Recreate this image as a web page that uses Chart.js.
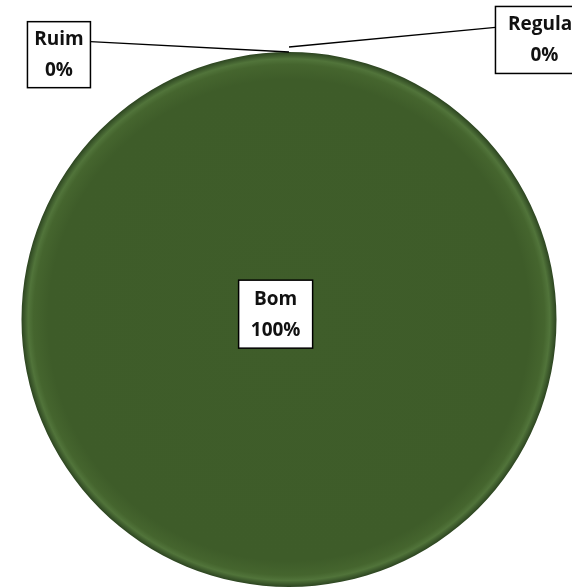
<!DOCTYPE html>
<html>
<head>
<meta charset="utf-8">
<script src="https://cdn.jsdelivr.net/npm/chart.js@4.4.1/dist/chart.umd.min.js"></script>
<style>
    html, body { margin: 0; padding: 0; background: #ffffff; }
    #wrap { width: 572px; height: 587px; position: relative; }
</style>
</head>
<body>
<div id="wrap"><canvas id="pieChart"></canvas></div>
<script>
'use strict';

// data
const categories = ['Ruim', 'Bom', 'Regular'];
const values = [0, 100, 0];
const percentLabels = ['0%', '100%', '0%'];

// where each label box sits, relative to the pie (dx, dy in radii)
const labelOffsets = [
    { dx: -0.86, dy: -0.99, w: 63, h: 66 },
    { dx: -0.05, dy: -0.02, w: 74, h: 68 },
    { dx: 0.955, dy: -1.045, w: 98, h: 67 }
];

function pieFill(context) {
    const chart = context.chart;
    const area = chart.chartArea;
    if (!area) return '#3e5c29';
    const cx = (area.left + area.right) / 2;
    const cy = (area.top + area.bottom) / 2;
    const r = Math.min(area.right - area.left, area.bottom - area.top) / 2;
    if (!Number.isFinite(cx) || !Number.isFinite(r) || r <= 0) return '#3e5c29';
    const g = chart.ctx.createRadialGradient(cx, cy + r * 0.03, 0, cx, cy, r);
    g.addColorStop(0, '#3f5d2a');
    g.addColorStop(0.9, '#3e5c29');
    g.addColorStop(0.955, '#45652e');
    g.addColorStop(0.975, '#51743a');
    g.addColorStop(1, '#2c4420');
    return g;
}

const labelBoxes = {
    id: 'labelBoxes',
    afterDatasetsDraw(chart) {
        const ctx = chart.ctx;
        const arc = chart.getDatasetMeta(0).data[1];
        const cx = arc.x, cy = arc.y, r = arc.outerRadius;
        const topX = cx, topY = cy - r;

        ctx.save();
        ctx.font = 'bold 19px "Open Sans", "Liberation Sans", sans-serif';
        ctx.textAlign = 'center';
        ctx.textBaseline = 'middle';

        categories.forEach((name, i) => {
            const o = labelOffsets[i];
            const bx = cx + o.dx * r;
            const by = cy + o.dy * r;
            const left = bx - o.w / 2, top = by - o.h / 2;

            // leader lines for the empty slices at the top
            if (values[i] === 0) {
                ctx.strokeStyle = '#000000';
                ctx.lineWidth = 1.3;
                ctx.beginPath();
                if (bx < cx) {
                    ctx.moveTo(left + o.w, top + 20);
                    ctx.lineTo(topX, topY);
                } else {
                    ctx.moveTo(left, top + 21);
                    ctx.lineTo(topX, topY - 5);
                }
                ctx.stroke();
            }

            ctx.fillStyle = '#ffffff';
            ctx.fillRect(left, top, o.w, o.h);
            ctx.strokeStyle = '#000000';
            ctx.lineWidth = 1.5;
            ctx.strokeRect(left, top, o.w, o.h);

            ctx.fillStyle = '#111111';
            ctx.fillText(name, bx, by - 15);
            ctx.fillText(percentLabels[i], bx, by + 16);
        });
        ctx.restore();
    }
};

window.onload = () => {
    new Chart(document.getElementById('pieChart'), {
        type: 'pie',
        data: {
            labels: categories,
            datasets: [
                {
                    data: values,
                    backgroundColor: pieFill,
                    borderWidth: 0
                }
            ]
        },
        options: {
            responsive: true,
            maintainAspectRatio: false,
            animation: false,
            layout: { padding: { top: 52, left: 21, right: 15, bottom: 0 } },
            plugins: {
                legend: { display: false },
                title: { display: false },
                tooltip: { enabled: false }
            }
        },
        plugins: [labelBoxes]
    });
}
</script>
</body>
</html>
